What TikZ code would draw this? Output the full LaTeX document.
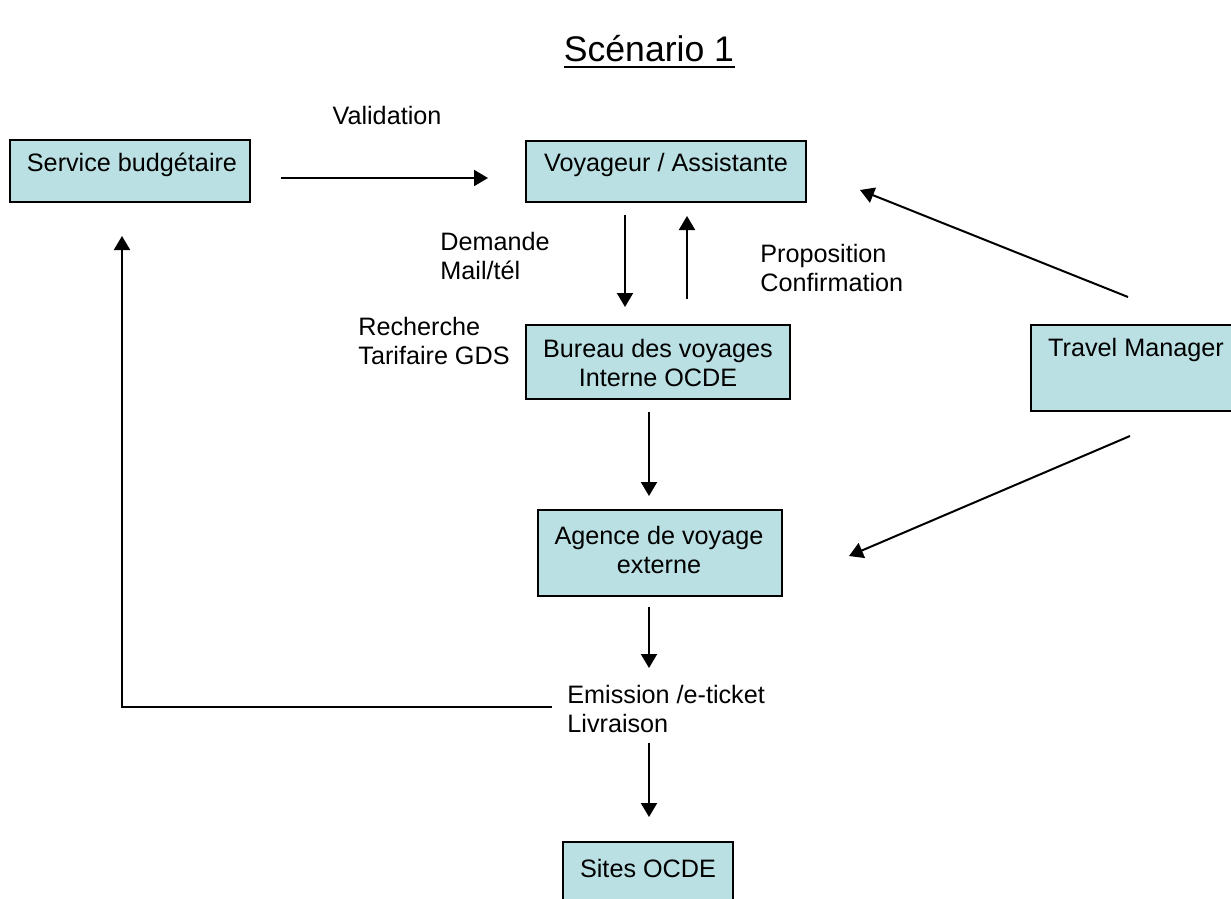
\documentclass[tikz,border=0pt]{standalone}
\usepackage{fontspec}
\setmainfont{Liberation Sans}
\usetikzlibrary{arrows.meta,positioning}
\definecolor{boxfill}{RGB}{186,224,227}

\begin{document}
\begin{tikzpicture}[x=0.5pt,y=-0.5pt,
  box/.style 2 args={draw=black, fill=boxfill, line width=1pt, minimum width=#1, minimum height=#2, inner sep=0pt},
  txt/.style={font=\fontsize{12.6}{14.5}\selectfont, inner sep=0pt, align=left},
  arr/.style={line width=1pt, -{Triangle[length=7pt,width=8pt]}}]
\useasboundingbox (0,0) rectangle (1231,899);

% title
\node[font=\fontsize{17.8}{20}\selectfont, inner sep=0pt, anchor=base] (title) at (649,62) {Scénario 1};
\draw[line width=1.1pt] ([shift={(0,5)}]title.base west) -- ([shift={(0,5)}]title.base east);

% boxes
\node[box={120pt}{31pt}] (budget) at (130,171) {};
\node[box={140pt}{30.5pt}] (voy) at (666,171.5) {};
\node[box={132pt}{37pt}] (bureau) at (658,362) {};
\node[box={105pt}{43pt}] (tm) at (1136,368) {};
\node[box={122pt}{43pt}] (agence) at (660,553) {};
\node[box={85pt}{40pt}] (sites) at (648,882) {};

% box texts
\node[txt] (budgettxt) at (132,165) {Service budgétaire};
\node[txt] (voytxt) at (666,165) {Voyageur / Assistante};
\node[txt, align=center] (bureautxt) at (658,363) {Bureau des voyages\\Interne OCDE};
\node[txt] (tmtxt) at (1136,350) {Travel Manager};
\node[txt, align=center] (agencetxt) at (659,550) {Agence de voyage\\externe};
\node[txt] (sitestxt) at (648,868) {Sites OCDE};

% labels
\node[txt] (valid) at (387,115) {Validation};
\node[txt, anchor=west] (demande) at (440,256) {Demande\\Mail/tél};
\node[txt, anchor=west] (propos) at (760,268) {Proposition\\Confirmation};
\node[txt, anchor=west] (recherche) at (358,341) {Recherche\\Tarifaire GDS};
\node[txt, anchor=west] (emission) at (567,709) {Emission /e-ticket\\Livraison};

% arrows
\draw[arr] ([shift={(30,7)}]budget.east) -- ([shift={(-37,6.5)}]voy.west);
\draw[arr] ([shift={(-41,12)}]voy.south) -- ([shift={(-33,-17)}]bureau.north);
\draw[arr] ([shift={(29,-25)}]bureau.north) -- ([shift={(21,13)}]voy.south);
\draw[arr] ([shift={(-8,-27)}]tm.north) -- ([shift={(53,18.5)}]voy.east);
\draw[arr] ([shift={(-9,12)}]bureau.south) -- ([shift={(-11,-13)}]agence.north);
\draw[arr] ([shift={(-6,24)}]tm.south) -- ([shift={(66,3)}]agence.east);
\draw[arr] ([shift={(-11,10)}]agence.south) -- ([shift={(82,-41)}]emission.west);
\draw[arr] ([shift={(82,34)}]emission.west) -- ([shift={(1,-24)}]sites.north);
\draw[arr] ([shift={(-15,-2)}]emission.west) -| ([shift={(-8,33)}]budget.south);
\end{tikzpicture}
\end{document}
